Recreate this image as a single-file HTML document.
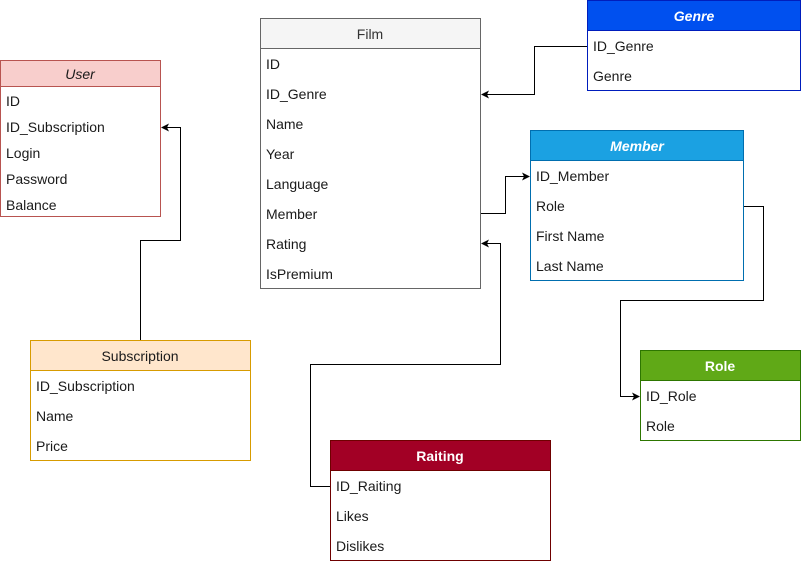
<!DOCTYPE html>
<html><head><meta charset="utf-8"><style>
html,body{margin:0;padding:0;background:#fff;width:802px;height:562px;overflow:hidden}
svg{display:block}
text{font-family:"Liberation Sans",sans-serif;font-size:14px;fill:#1a1a1a}
.h{text-anchor:middle;font-size:14px}
.w{fill:#fff;font-weight:bold}
</style></head><body>
<svg width="802" height="562" viewBox="0 0 802 562" xmlns="http://www.w3.org/2000/svg">
<defs><marker id="a" markerWidth="8" markerHeight="8" refX="7" refY="4" orient="auto" markerUnits="userSpaceOnUse"><path d="M0,0 L8,4 L0,8 L2,4 Z" fill="#000"/></marker></defs>
<g fill="none" stroke="#000" stroke-width="1">
<path d="M140.5,340 V240.5 H180.5 V127.5 H162" marker-end="url(#a)"/>
<path d="M587,46.5 H534.5 V94.5 H482" marker-end="url(#a)"/>
<path d="M480,213.5 H505.5 V176.5 H529" marker-end="url(#a)"/>
<path d="M743,206.5 H763.5 V300.5 H620.5 V396.5 H639" marker-end="url(#a)"/>
<path d="M330,486.5 H310.5 V364.5 H500.5 V243.5 H482" marker-end="url(#a)"/>
</g>
<!-- User -->
<rect x="0.5" y="60.5" width="160" height="156" fill="#fff" stroke="#b85450"/>
<rect x="0.5" y="60.5" width="160" height="26" fill="#f8cecc" stroke="#b85450"/>
<text class="h" x="80" y="79" font-style="italic">User</text>
<text x="6" y="106">ID</text><text x="6" y="132">ID_Subscription</text><text x="6" y="158">Login</text><text x="6" y="184">Password</text><text x="6" y="210">Balance</text>
<!-- Film -->
<rect x="260.5" y="18.5" width="220" height="270" fill="#fff" stroke="#666"/>
<rect x="260.5" y="18.5" width="220" height="30" fill="#f5f5f5" stroke="#666"/>
<text class="h" x="370" y="39" style="fill:#333">Film</text>
<text x="266" y="69">ID</text><text x="266" y="99">ID_Genre</text><text x="266" y="129">Name</text><text x="266" y="159">Year</text><text x="266" y="189">Language</text><text x="266" y="219">Member</text><text x="266" y="249">Rating</text><text x="266" y="279">IsPremium</text>
<!-- Genre -->
<rect x="587.5" y="0.5" width="213" height="90" fill="#fff" stroke="#001DBC"/>
<rect x="587.5" y="0.5" width="213" height="30" fill="#0050ef" stroke="#001DBC"/>
<text class="h w" x="694" y="21" font-style="italic">Genre</text>
<text x="593" y="51">ID_Genre</text><text x="593" y="81">Genre</text>
<!-- Member -->
<rect x="530.5" y="130.5" width="213" height="150" fill="#fff" stroke="#006EAF"/>
<rect x="530.5" y="130.5" width="213" height="30" fill="#1ba1e2" stroke="#006EAF"/>
<text class="h w" x="637" y="151" font-style="italic">Member</text>
<text x="536" y="181">ID_Member</text><text x="536" y="211">Role</text><text x="536" y="241">First Name</text><text x="536" y="271">Last Name</text>
<!-- Subscription -->
<rect x="30.5" y="340.5" width="220" height="120" fill="#fff" stroke="#d79b00"/>
<rect x="30.5" y="340.5" width="220" height="30" fill="#ffe6cc" stroke="#d79b00"/>
<text class="h" x="140" y="361">Subscription</text>
<text x="36" y="391">ID_Subscription</text><text x="36" y="421">Name</text><text x="36" y="451">Price</text>
<!-- Role -->
<rect x="640.5" y="350.5" width="160" height="90" fill="#fff" stroke="#2D7600"/>
<rect x="640.5" y="350.5" width="160" height="30" fill="#60a917" stroke="#2D7600"/>
<text class="h w" x="720" y="371">Role</text>
<text x="646" y="401">ID_Role</text><text x="646" y="431">Role</text>
<!-- Raiting -->
<rect x="330.5" y="440.5" width="220" height="120" fill="#fff" stroke="#6F0000"/>
<rect x="330.5" y="440.5" width="220" height="30" fill="#a20025" stroke="#6F0000"/>
<text class="h w" x="440" y="461">Raiting</text>
<text x="336" y="491">ID_Raiting</text><text x="336" y="521">Likes</text><text x="336" y="551">Dislikes</text>
</svg>
</body></html>
